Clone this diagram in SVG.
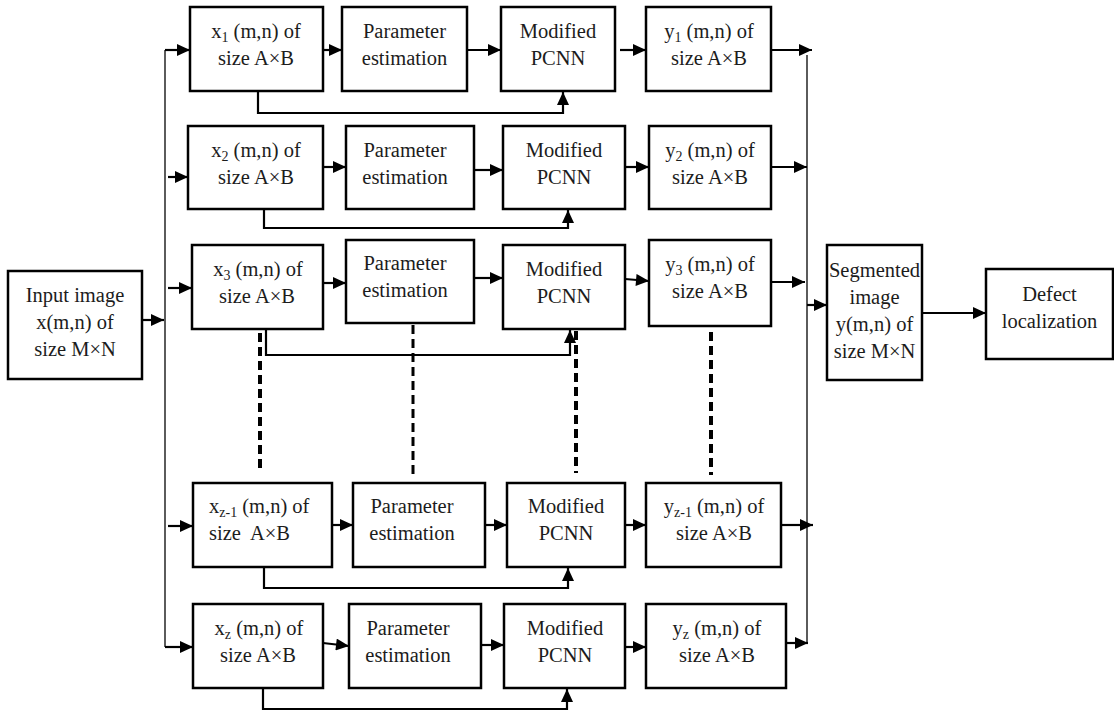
<svg xmlns="http://www.w3.org/2000/svg" width="1114" height="713" viewBox="0 0 1114 713">
<style>
.box{fill:#fff;stroke:#000;stroke-width:2.5}
.t{font-size:20.5px;fill:#1c1c1c;text-anchor:middle}
.ts{text-anchor:start}
.sub{font-size:14px}
.c{fill:none;stroke:#000;stroke-width:2.2}
.bus{fill:none;stroke:#333;stroke-width:1.6}
.d1{fill:none;stroke:#000;stroke-width:4;stroke-dasharray:9 5}
.d2{fill:none;stroke:#000;stroke-width:3;stroke-dasharray:9 5}
</style>
<defs>
<marker id="ah" markerUnits="userSpaceOnUse" markerWidth="14" markerHeight="12" refX="13" refY="6" orient="auto" viewBox="0 0 13 12">
<path d="M0,0 L13,6 L0,12 z" fill="#000"/>
</marker>
</defs>
<rect width="1114" height="713" fill="#fff"/>

<g id="connectors">
<path class="bus" d="M165,50 V647"/>
<path class="bus" d="M807,55 V643"/>
<path class="c" d="M142,320 H164" marker-end="url(#ah)"/>
<path class="c" d="M165,50 H190" marker-end="url(#ah)"/>
<path class="c" d="M323,50 H342" marker-end="url(#ah)"/>
<path class="c" d="M467,50 H501" marker-end="url(#ah)"/>
<path class="c" d="M620,50 H646" marker-end="url(#ah)"/>
<path class="c" d="M771,50 H812" marker-end="url(#ah)"/>
<path class="c" d="M258,91 V113 H563 V92" marker-end="url(#ah)"/>
<path class="c" d="M168,177 H188" marker-end="url(#ah)"/>
<path class="c" d="M323,167 H346" marker-end="url(#ah)"/>
<path class="c" d="M474,170 H503" marker-end="url(#ah)"/>
<path class="c" d="M625,167 H649" marker-end="url(#ah)"/>
<path class="c" d="M771,167 H807" marker-end="url(#ah)"/>
<path class="c" d="M264,209 V228 H568 V210" marker-end="url(#ah)"/>
<path class="c" d="M168,288 H192" marker-end="url(#ah)"/>
<path class="c" d="M323,283 H346" marker-end="url(#ah)"/>
<path class="c" d="M474,278 H503" marker-end="url(#ah)"/>
<path class="c" d="M625,279 L649,281" marker-end="url(#ah)"/>
<path class="c" d="M771,282 H805" marker-end="url(#ah)"/>
<path class="c" d="M266,329 V355 H570 V330" marker-end="url(#ah)"/>
<path class="d1" d="M260,333 V473"/>
<path class="d2" d="M413,325 V478"/>
<path class="d1" d="M576,331 V473"/>
<path class="d1" d="M711,332 V475"/>
<path class="c" d="M168,526 H193" marker-end="url(#ah)"/>
<path class="c" d="M332,525 H353" marker-end="url(#ah)"/>
<path class="c" d="M485,525 H507" marker-end="url(#ah)"/>
<path class="c" d="M625,525 H646" marker-end="url(#ah)"/>
<path class="c" d="M781,525 H813" marker-end="url(#ah)"/>
<path class="c" d="M264,567 V588 H568 V568" marker-end="url(#ah)"/>
<path class="c" d="M165,647 H193" marker-end="url(#ah)"/>
<path class="c" d="M323,643 L349,646" marker-end="url(#ah)"/>
<path class="c" d="M481,645 H504" marker-end="url(#ah)"/>
<path class="c" d="M625,647 H646" marker-end="url(#ah)"/>
<path class="c" d="M786,643 H808" marker-end="url(#ah)"/>
<path class="c" d="M263,688 V709 H567 V689" marker-end="url(#ah)"/>
<path class="c" d="M807,305 H827" marker-end="url(#ah)"/>
<path class="c" d="M922,313 H986" marker-end="url(#ah)"/>
</g>

<g id="nodes" font-family="Liberation Serif, serif">
<g id="input">
<rect class="box" x="8" y="271" width="134" height="108"/>
<text class="t" x="75" y="302">Input image</text>
<text class="t" x="75" y="329">x(m,n) of</text>
<text class="t" x="75" y="356">size M×N</text>
</g>

<g id="x1">
<rect class="box" x="190" y="7" width="133" height="84"/>
<text class="t" x="256" y="38">x<tspan class="sub" dy="4">1</tspan><tspan dy="-4"> (m,n) of</tspan></text>
<text class="t" x="256" y="65">size A×B</text>
</g>
<g id="pe1">
<rect class="box" x="342" y="7" width="125" height="84"/>
<text class="t" x="404.5" y="38">Parameter</text>
<text class="t" x="404.5" y="65">estimation</text>
</g>
<g id="pcnn1">
<rect class="box" x="501" y="7" width="114" height="84"/>
<text class="t" x="558" y="38">Modified</text>
<text class="t" x="558" y="65">PCNN</text>
</g>
<g id="y1">
<rect class="box" x="646" y="7" width="125" height="84"/>
<text class="t" x="709" y="38">y<tspan class="sub" dy="4">1</tspan><tspan dy="-4"> (m,n) of</tspan></text>
<text class="t" x="709" y="65">size A×B</text>
</g>

<g id="x2">
<rect class="box" x="188" y="126" width="135" height="83"/>
<text class="t" x="256" y="157">x<tspan class="sub" dy="4">2</tspan><tspan dy="-4"> (m,n) of</tspan></text>
<text class="t" x="256" y="184">size A×B</text>
</g>
<g id="pe2">
<rect class="box" x="346" y="126" width="128" height="83"/>
<text class="t" x="405" y="157">Parameter</text>
<text class="t" x="405" y="184">estimation</text>
</g>
<g id="pcnn2">
<rect class="box" x="503" y="126" width="122" height="83"/>
<text class="t" x="564" y="157">Modified</text>
<text class="t" x="564" y="184">PCNN</text>
</g>
<g id="y2">
<rect class="box" x="649" y="126" width="122" height="83"/>
<text class="t" x="710" y="157">y<tspan class="sub" dy="4">2</tspan><tspan dy="-4"> (m,n) of</tspan></text>
<text class="t" x="710" y="184">size A×B</text>
</g>

<g id="x3">
<rect class="box" x="192" y="245" width="131" height="84"/>
<text class="t" x="258" y="276">x<tspan class="sub" dy="4">3</tspan><tspan dy="-4"> (m,n) of</tspan></text>
<text class="t" x="257" y="303">size A×B</text>
</g>
<g id="pe3">
<rect class="box" x="346" y="240" width="128" height="83"/>
<text class="t" x="405" y="270">Parameter</text>
<text class="t" x="405" y="297">estimation</text>
</g>
<g id="pcnn3">
<rect class="box" x="503" y="245" width="122" height="84"/>
<text class="t" x="564" y="276">Modified</text>
<text class="t" x="564" y="303">PCNN</text>
</g>
<g id="y3">
<rect class="box" x="649" y="240" width="122" height="86"/>
<text class="t" x="710" y="271">y<tspan class="sub" dy="4">3</tspan><tspan dy="-4"> (m,n) of</tspan></text>
<text class="t" x="710" y="298">size A×B</text>
</g>

<g id="xz1">
<rect class="box" x="193" y="483" width="139" height="84"/>
<text class="t ts" x="209" y="513" xml:space="preserve">x<tspan class="sub" dy="4">z-1</tspan><tspan dy="-4"> (m,n) of</tspan></text>
<text class="t ts" x="209" y="540" xml:space="preserve">size  A×B</text>
</g>
<g id="pez1">
<rect class="box" x="353" y="483" width="132" height="84"/>
<text class="t" x="412" y="513">Parameter</text>
<text class="t" x="412" y="540">estimation</text>
</g>
<g id="pcnnz1">
<rect class="box" x="507" y="483" width="118" height="84"/>
<text class="t" x="566" y="513">Modified</text>
<text class="t" x="566" y="540">PCNN</text>
</g>
<g id="yz1">
<rect class="box" x="646" y="483" width="135" height="84"/>
<text class="t" x="714" y="513">y<tspan class="sub" dy="4">z-1</tspan><tspan dy="-4"> (m,n) of</tspan></text>
<text class="t" x="714" y="540">size A×B</text>
</g>

<g id="xz">
<rect class="box" x="193" y="604" width="130" height="84"/>
<text class="t" x="259" y="635">x<tspan class="sub" dy="4">z</tspan><tspan dy="-4"> (m,n) of</tspan></text>
<text class="t" x="258" y="662">size A×B</text>
</g>
<g id="pez">
<rect class="box" x="349" y="604" width="132" height="84"/>
<text class="t" x="408" y="635">Parameter</text>
<text class="t" x="408" y="662">estimation</text>
</g>
<g id="pcnnz">
<rect class="box" x="504" y="604" width="121" height="84"/>
<text class="t" x="565" y="635">Modified</text>
<text class="t" x="565" y="662">PCNN</text>
</g>
<g id="yz">
<rect class="box" x="646" y="604" width="140" height="84"/>
<text class="t" x="717" y="635">y<tspan class="sub" dy="4">z</tspan><tspan dy="-4"> (m,n) of</tspan></text>
<text class="t" x="717" y="662">size A×B</text>
</g>

<g id="segmented">
<rect class="box" x="827" y="245" width="95" height="135"/>
<text class="t" x="874.5" y="277">Segmented</text>
<text class="t" x="874.5" y="304">image</text>
<text class="t" x="874.5" y="331">y(m,n) of</text>
<text class="t" x="874.5" y="358">size M×N</text>
</g>
<g id="defect">
<rect class="box" x="986" y="269" width="127" height="90"/>
<text class="t" x="1049.5" y="301">Defect</text>
<text class="t" x="1049.5" y="328">localization</text>
</g>
</g>
</svg>
